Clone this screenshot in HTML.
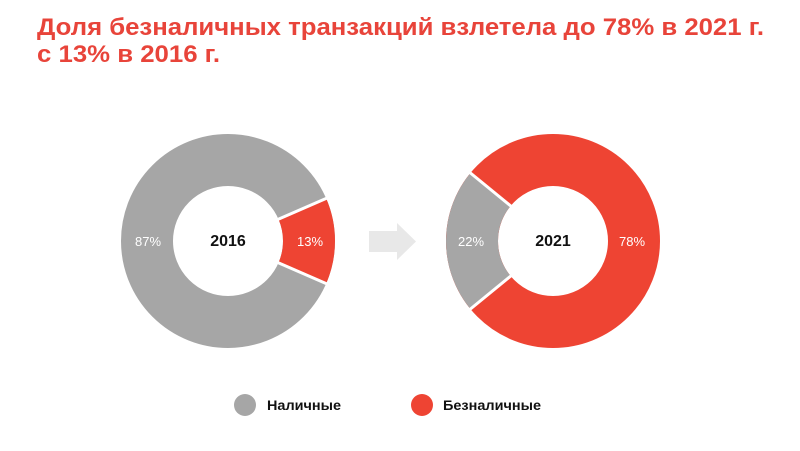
<!DOCTYPE html>
<html><head><meta charset="utf-8"><style>
html,body{margin:0;padding:0;background:#fff;width:800px;height:451px;overflow:hidden}
svg{display:block;font-family:"Liberation Sans",sans-serif}
</style></head><body>
<svg width="800" height="451" viewBox="0 0 800 451">
<text x="37" y="35" font-size="24" font-weight="bold" fill="#e8443a" textLength="727" lengthAdjust="spacingAndGlyphs">Доля безналичных транзакций взлетела до 78% в 2021 г.</text>
<text x="37" y="62" font-size="24" font-weight="bold" fill="#e8443a" textLength="183" lengthAdjust="spacingAndGlyphs">с 13% в 2016 г.</text>

<circle cx="228" cy="241" r="81" fill="none" stroke="#a6a6a6" stroke-width="52"/>
<circle cx="228" cy="241" r="81" fill="none" stroke="#ee4433" stroke-width="52" stroke-dasharray="66.2 600" transform="rotate(-23.4 228 241)"/>
<line x1="276" y1="220.3" x2="330" y2="196.8" stroke="#fff" stroke-width="3"/>
<line x1="276" y1="261.7" x2="330" y2="285.2" stroke="#fff" stroke-width="3"/>
<text x="148" y="246" font-size="13" fill="#fff" text-anchor="middle">87%</text>
<text x="310" y="246" font-size="13" fill="#fff" text-anchor="middle">13%</text>
<text x="228" y="246" font-size="16" font-weight="bold" fill="#111" text-anchor="middle">2016</text>

<polygon points="369,231 397,231 397,223 416,241.5 397,260 397,252 369,252" fill="#e8e8e8"/>

<circle cx="553" cy="241" r="81" fill="none" stroke="#ee4433" stroke-width="52"/>
<circle cx="553" cy="241" r="81" fill="none" stroke="#a6a6a6" stroke-width="52" stroke-dasharray="112 600" transform="rotate(140.4 553 241)"/>
<line x1="512" y1="275" x2="468" y2="311" stroke="#fff" stroke-width="3"/>
<line x1="512" y1="207" x2="468" y2="171" stroke="#fff" stroke-width="3"/>
<text x="471" y="246" font-size="13" fill="#fff" text-anchor="middle">22%</text>
<text x="632" y="246" font-size="13" fill="#fff" text-anchor="middle">78%</text>
<text x="553" y="246" font-size="16" font-weight="bold" fill="#111" text-anchor="middle">2021</text>

<circle cx="245" cy="405" r="11" fill="#a6a6a6"/>
<text x="267" y="410" font-size="14" font-weight="bold" fill="#111" textLength="74" lengthAdjust="spacingAndGlyphs">Наличные</text>
<circle cx="422" cy="405" r="11" fill="#ee4433"/>
<text x="443" y="410" font-size="14" font-weight="bold" fill="#111" textLength="98" lengthAdjust="spacingAndGlyphs">Безналичные</text>
</svg>
</body></html>
